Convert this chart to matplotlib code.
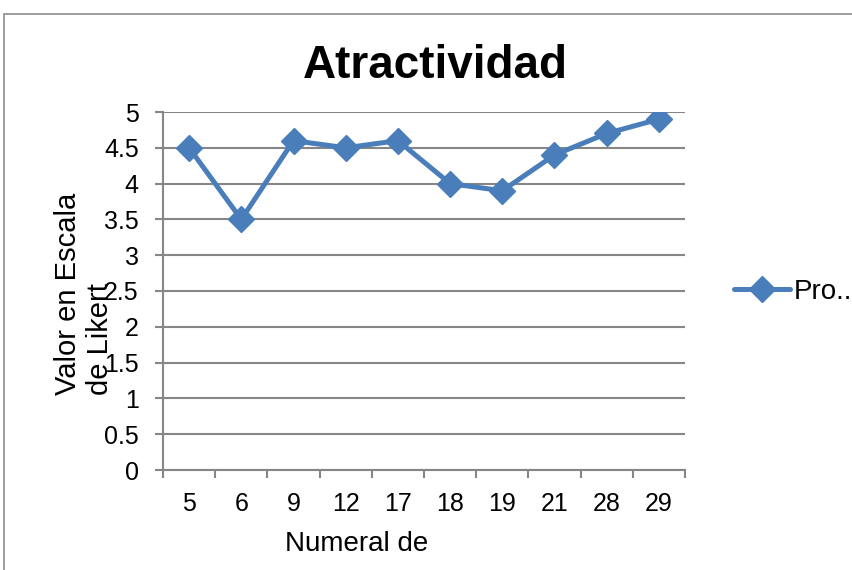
import numpy as np
import matplotlib
matplotlib.use("Agg")
from matplotlib import pyplot as plt
from matplotlib.patches import Rectangle

# data
CATEGORIES = ["5", "6", "9", "12", "17", "18", "19", "21", "28", "29"]
VALUES = [4.5, 3.5, 4.6, 4.5, 4.6, 4.0, 3.9, 4.4, 4.7, 4.9]
Y_TICKS = [0, 0.5, 1, 1.5, 2, 2.5, 3, 3.5, 4, 4.5, 5]
Y_TICK_LABELS = ["0", "0.5", "1", "1.5", "2", "2.5", "3", "3.5", "4", "4.5", "5"]
SERIES_LABEL = "Pro.."

LINE_COLOR = "#4a7ebb"
GRID_COLOR = "#868686"
TICK_SIZE = 18
LABEL_SIZE = 20

plt.rcParams.update({"font.family": ["Liberation Sans", "DejaVu Sans"], "font.size": TICK_SIZE})

fig = plt.figure(figsize=(8.53, 5.70), dpi=100)
ax = fig.add_axes([163 / 853, 1 - 470 / 570, (685 - 163) / 853, (470 - 112) / 570])

# outer chart frame (Excel style)
fig.patches.append(Rectangle((4 / 853, -0.05), 1.0, 1 - 14 / 570 + 0.05, transform=fig.transFigure,
                             fill=False, edgecolor="#8c8c8c", linewidth=1.2))

x = np.arange(len(CATEGORIES))
ax.plot(x, VALUES, color=LINE_COLOR, linewidth=3.6, marker="D", markersize=13,
        markerfacecolor=LINE_COLOR, markeredgecolor=LINE_COLOR, label=SERIES_LABEL,
        solid_capstyle="round", zorder=3)

ax.set_xlim(-0.5, len(CATEGORIES) - 0.5)
ax.set_ylim(0, 5)
ax.set_yticks(Y_TICKS)
ax.set_yticklabels(Y_TICK_LABELS)
ax.set_xticks(x)
ax.set_xticklabels(CATEGORIES)
ax.set_xticks(np.arange(len(CATEGORIES) + 1) - 0.5, minor=True)
ax.tick_params(axis="x", which="major", length=0, pad=16)
ax.tick_params(axis="x", which="minor", length=6, width=1.5, color=GRID_COLOR)
ax.tick_params(axis="y", length=6, width=1.5, color=GRID_COLOR, pad=11.5)

ax.grid(True, axis="y", color=GRID_COLOR, linewidth=1.5)
ax.set_axisbelow(True)
for side in ["top", "right"]:
    ax.spines[side].set_visible(False)
for side in ["left", "bottom"]:
    ax.spines[side].set_color(GRID_COLOR)
    ax.spines[side].set_linewidth(1.5)

fig.text(435 / 853, 1 - 66 / 570, "Atractividad", ha="center", va="center",
         fontsize=33, fontweight="bold")
fig.text(84 / 853, 1 - 294 / 570, "Valor en Escala\nde Likert", ha="center", va="center",
         rotation=90, fontsize=LABEL_SIZE + 1, linespacing=1.15, multialignment="left")
fig.text(357 / 853, 1 - 544 / 570, "Numeral de", ha="center", va="center", fontsize=LABEL_SIZE)

ax.legend(loc="center left", bbox_to_anchor=(734 / 853, 1 - 292 / 570), bbox_transform=fig.transFigure,
          frameon=False, handlelength=2.0, handletextpad=0.15, fontsize=LABEL_SIZE,
          borderaxespad=0, borderpad=0)

fig.savefig("out.png", dpi=100)
